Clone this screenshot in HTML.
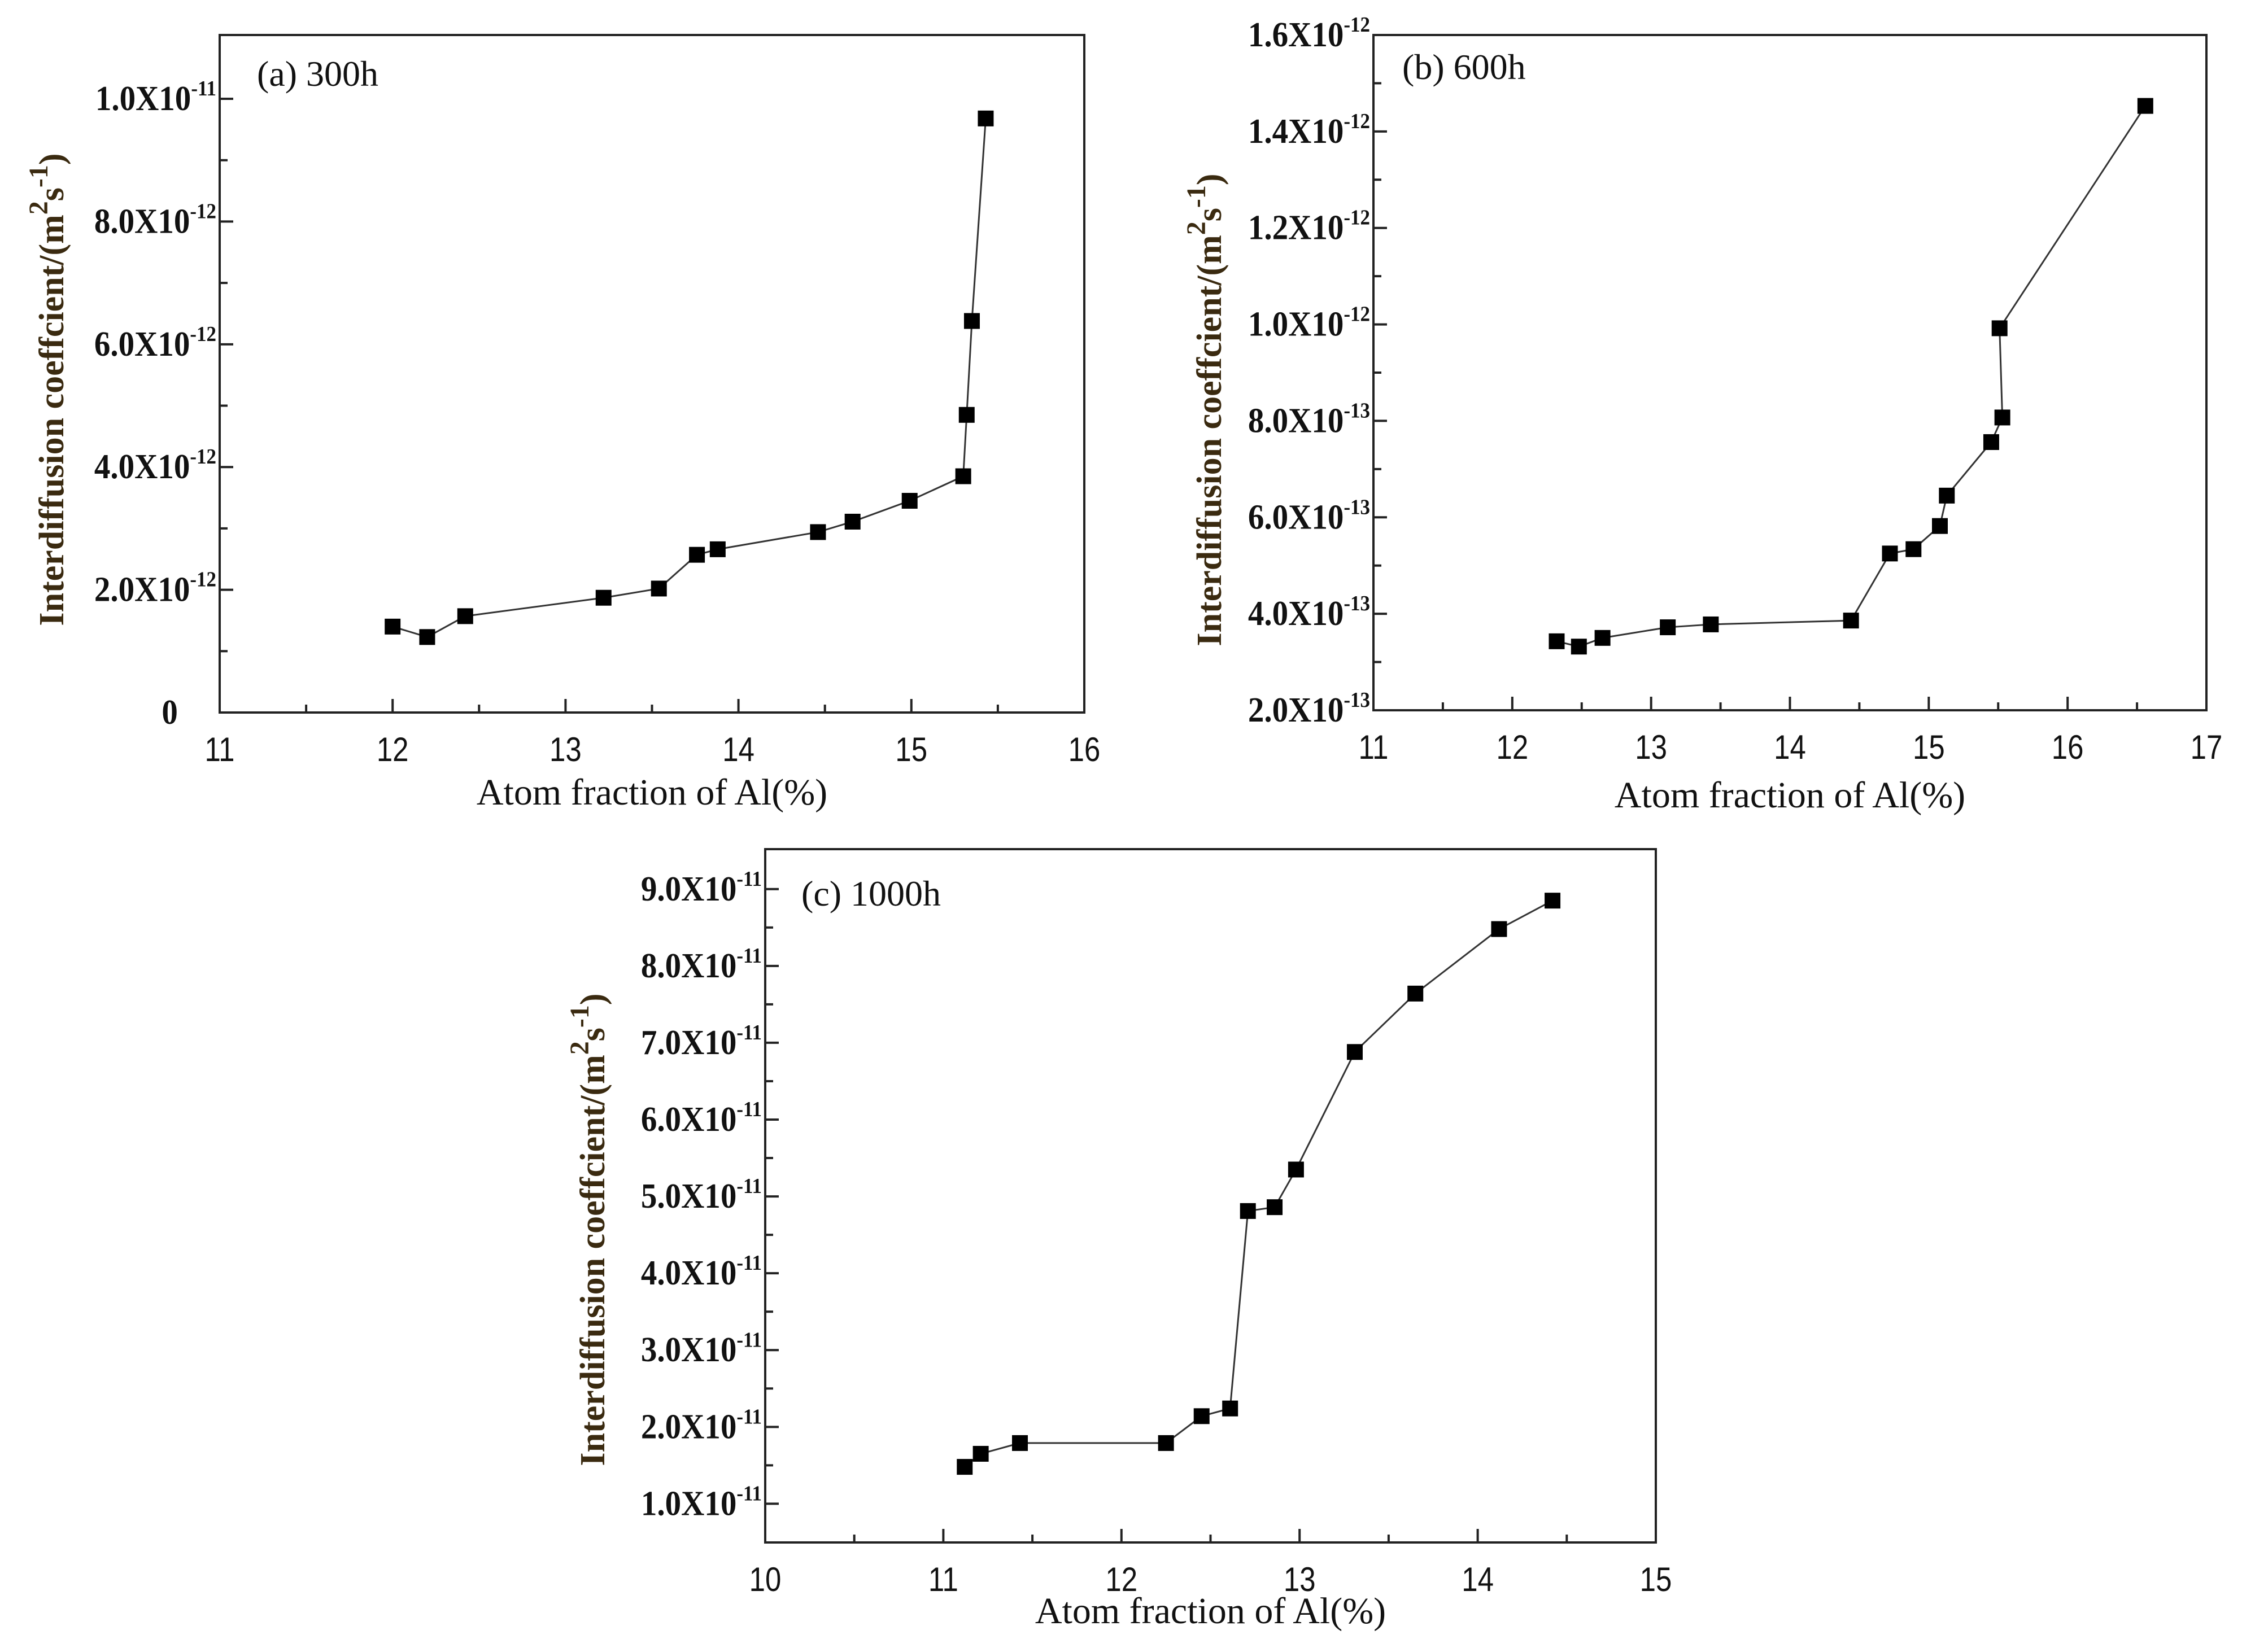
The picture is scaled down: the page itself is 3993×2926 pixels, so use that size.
<!DOCTYPE html>
<html><head><meta charset="utf-8"><style>
html,body{margin:0;padding:0;background:#fff;}
svg{display:block;}
</style></head><body>
<svg id="fig" width="3993" height="2926" viewBox="0 0 3993 2926" xmlns="http://www.w3.org/2000/svg"></svg>
<script>
// Panel (a) 300h
const aX = [12.0, 12.2, 12.42, 13.22, 13.54, 13.76, 13.88, 14.46, 14.66, 14.99, 15.3, 15.32, 15.35, 15.43];
const aY = [1.40, 1.23, 1.57, 1.87, 2.02, 2.57, 2.66, 2.94, 3.11, 3.45, 3.85, 4.85, 6.38, 9.68]; // x1e-12
const aXTicks = [11, 12, 13, 14, 15, 16];
const aYTicks = [0, 2, 4, 6, 8, 10];
const aYLabels = [["0",""], ["2.0X10","-12"], ["4.0X10","-12"], ["6.0X10","-12"], ["8.0X10","-12"], ["1.0X10","-11"]];
// Panel (b) 600h
const bX = [12.32, 12.48, 12.65, 13.12, 13.43, 14.44, 14.72, 14.89, 15.08, 15.13, 15.45, 15.53, 15.51, 16.56];
const bY = [0.343, 0.332, 0.350, 0.372, 0.378, 0.386, 0.525, 0.534, 0.582, 0.645, 0.756, 0.807, 0.992, 1.453]; // x1e-12
const bXTicks = [11, 12, 13, 14, 15, 16, 17];
const bYTicks = [0.2, 0.4, 0.6, 0.8, 1.0, 1.2, 1.4, 1.6];
const bYLabels = [["2.0X10","-13"], ["4.0X10","-13"], ["6.0X10","-13"], ["8.0X10","-13"], ["1.0X10","-12"], ["1.2X10","-12"], ["1.4X10","-12"], ["1.6X10","-12"]];
// Panel (c) 1000h
const cX = [11.12, 11.21, 11.43, 12.25, 12.45, 12.61, 12.71, 12.86, 12.98, 13.31, 13.65, 14.12, 14.42];
const cY = [1.48, 1.65, 1.79, 1.79, 2.14, 2.24, 4.81, 4.86, 5.35, 6.88, 7.64, 8.48, 8.85]; // x1e-11
const cXTicks = [10, 11, 12, 13, 14, 15];
const cYTicks = [1, 2, 3, 4, 5, 6, 7, 8, 9];
const cYLabels = [["1.0X10","-11"], ["2.0X10","-11"], ["3.0X10","-11"], ["4.0X10","-11"], ["5.0X10","-11"], ["6.0X10","-11"], ["7.0X10","-11"], ["8.0X10","-11"], ["9.0X10","-11"]];

const NS = "http://www.w3.org/2000/svg";
const fig = document.getElementById('fig');
function mk(tag, attrs, parent){
  const e = document.createElementNS(NS, tag);
  for (const k in attrs) e.setAttribute(k, attrs[k]);
  (parent||fig).appendChild(e);
  return e;
}

function panel(cfg){
  const g = mk('g', {});
  
  
  const L=cfg.L, R=cfg.R, T=cfg.T, B=cfg.B;
  const sx = v => L + (v - cfg.x0) / (cfg.x1 - cfg.x0) * (R - L);
  const sy = v => B - (v - cfg.y0) / (cfg.y1 - cfg.y0) * (B - T);
  const frame = mk('rect', {x:L, y:T, width:R-L, height:B-T, fill:'none', stroke:'#222', 'stroke-width':4}, g);
  
  
  for (let i = 0; i < cfg.xt.length; i++){
    const v = cfg.xt[i];
    const x = sx(v);
    const tk = mk('line', {x1:x, x2:x, y1:B, y2:B-24, stroke:'#222', 'stroke-width':4}, g);
    
    
    if (i < cfg.xt.length - 1){
      const xm = sx(v + (cfg.xt[i+1]-v)/2);
      const mt = mk('line', {x1:xm, x2:xm, y1:B, y2:B-14, stroke:'#222', 'stroke-width':4}, g);
      
      
    }
    const t = mk('text', {x:x, y:B+86, 'text-anchor':'middle', 'font-family':'"Liberation Sans", sans-serif', 'font-size':60, fill:'#111', transform:`translate(${x},0) scale(0.85,1) translate(${-x},0)`}, g);
    t.textContent = String(v);
    
    
  }
  for (let i = 0; i < cfg.yt.length; i++){
    const v = cfg.yt[i];
    const y = sy(v);
    const tk = mk('line', {x1:L, x2:L+24, y1:y, y2:y, stroke:'#222', 'stroke-width':4}, g);
    
    
    if (i < cfg.yt.length - 1){
      const ym = sy(v + (cfg.yt[i+1]-v)/2);
      const mt = mk('line', {x1:L, x2:L+14, y1:ym, y2:ym, stroke:'#222', 'stroke-width':4}, g);
      
      
    }
    const lab = cfg.yl[i];
    const t = mk('text', {x:L-6, y:y+20, 'text-anchor':'end', 'font-family':'"Liberation Serif", serif', 'font-weight':'bold', 'font-size':62, fill:'#111', transform:`translate(${L-6},0) scale(0.92,1) translate(${-(L-6)},0)`}, g);
    
    
    if (lab[1] === ''){
      t.setAttribute('x', L-80);
      t.textContent = lab[0];
    } else {
      const s1 = mk('tspan', {}, t); s1.textContent = lab[0];
      const s2 = mk('tspan', {'font-size':38, dy:-26}, t); s2.textContent = lab[1];
    }
  }
  let d = '';
  for (let i = 0; i < cfg.xs.length; i++) d += (i?'L':'M') + sx(cfg.xs[i]) + ' ' + sy(cfg.ys[i]);
  const ln = mk('path', {d:d, fill:'none', stroke:'#333', 'stroke-width':3}, g);
  
  
  for (let i = 0; i < cfg.xs.length; i++){
    const m = mk('rect', {x:sx(cfg.xs[i])-14, y:sy(cfg.ys[i])-14, width:28, height:28, fill:'#000'}, g);
    
    
  }
  const pl = mk('text', {x:cfg.plx, y:cfg.ply, 'font-family':'"Liberation Serif", serif', 'font-size':64, fill:'#111'}, g);
  pl.textContent = cfg.title;
  
  
  const xt = mk('text', {x:(L+R)/2, y:cfg.xty, 'text-anchor':'middle', 'font-family':'"Liberation Serif", serif', 'font-size':66, fill:'#111'}, g);
  xt.textContent = 'Atom fraction of Al(%)';
  
  
  const yt = mk('text', {x:0, y:0, 'text-anchor':'middle', 'font-family':'"Liberation Serif", serif', 'font-weight':'bold', 'font-size':62, fill:'#3a2a10', transform:`translate(${cfg.ytx},${cfg.yty}) rotate(-90)`}, g);
  
  
  const p1 = mk('tspan', {}, yt); p1.textContent = 'Interdiffusion coeffcient/(m';
  const p2 = mk('tspan', {dy:-28, 'font-size':48}, yt); p2.textContent = '2';
  const p3 = mk('tspan', {dy:28}, yt); p3.textContent = 's';
  const p4 = mk('tspan', {dy:-28, 'font-size':48}, yt); p4.textContent = '-1';
  const p5 = mk('tspan', {dy:28}, yt); p5.textContent = ')';
}

panel({id:'a-300h', L:389, R:1920, T:62, B:1262, x0:11, x1:16, y0:0, y1:11.04,
  xs:aX, ys:aY, xt:aXTicks, yt:aYTicks, yl:aYLabels,
  title:'(a) 300h', plx:455, ply:152, xty:1425, ytx:112, yty:690});
panel({id:'b-600h', L:2432, R:3907, T:62, B:1258, x0:11, x1:17, y0:0.2, y1:1.6,
  xs:bX, ys:bY, xt:bXTicks, yt:bYTicks, yl:bYLabels,
  title:'(b) 600h', plx:2483, ply:140, xty:1430, ytx:2162, yty:726});
panel({id:'c-1000h', L:1355, R:2932, T:1504, B:2732, x0:10, x1:15, y0:0.496, y1:9.52,
  xs:cX, ys:cY, xt:cXTicks, yt:cYTicks, yl:cYLabels,
  title:'(c) 1000h', plx:1419, ply:1604, xty:2875, ytx:1070, yty:2178});
</script>
</body></html>
